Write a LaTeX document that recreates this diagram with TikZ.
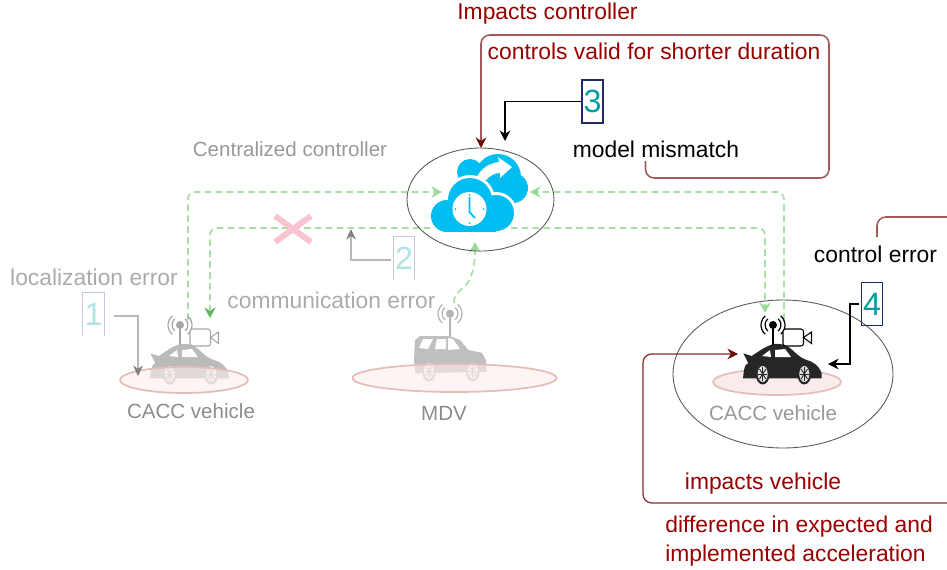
\documentclass[tikz,border=0pt]{standalone}
\usepackage{fontspec}
\setmainfont{Liberation Sans}
\usetikzlibrary{arrows.meta,shapes.geometric,shapes.misc}

\definecolor{errred}{HTML}{990000}
\definecolor{looptip}{HTML}{6E0A0A}
\definecolor{toploop}{HTML}{A05A5A}
\definecolor{lowloop}{HTML}{8A2A2A}
\definecolor{linkgreen}{HTML}{A8DFA8}
\definecolor{linktip}{HTML}{9ADB9A}
\definecolor{cloudblue}{HTML}{00BEF2}
\definecolor{numteal}{HTML}{009E9E}
\definecolor{numfade}{HTML}{B2E3E3}
\definecolor{numbox}{HTML}{1F2A6B}
\definecolor{fadebox}{HTML}{C6C8DC}
\definecolor{diskline}{HTML}{E5BDB9}
\definecolor{diskfill}{HTML}{FBECEC}
\definecolor{dropcross}{HTML}{F8C4D0}

\newcommand{\pxu}{.02cm}

\tikzset{
    bigtext/.style={font=\fontsize{13pt}{16pt}\selectfont, inner sep=0pt},
    smalltext/.style={font=\fontsize{11.7pt}{14pt}\selectfont, inner sep=0pt},
    errtext/.style={bigtext, text=errred},
    fadetext/.style={bigtext, text=black!33},
    grouptext/.style={smalltext, text=black!45},
    numnode/.style={font=\fontsize{18.3pt}{20pt}\selectfont, inner sep=0pt,
        minimum width=21*\pxu, minimum height=43*\pxu},
    ring/.style={ellipse, draw=black!65, line width=.5pt, inner sep=0pt},
    disk/.style={draw=diskline, fill=diskfill, line width=1pt, ellipse, inner sep=0pt},
    greenlink/.style={draw=linkgreen, line width=1pt, dash pattern=on 3.8pt off 2.4pt,
        rounded corners=4pt},
    greentip/.style={-{Stealth[length=6pt, width=6.5pt, color=linktip]}},
    toplink/.style={draw=toploop, line width=.9pt, rounded corners=5pt,
        -{Stealth[length=6pt, width=6pt, color=looptip]}},
    lowlink/.style={draw=lowloop, line width=.7pt, rounded corners=5pt,
        -{Stealth[length=6pt, width=6pt, color=looptip]}},
    blacklink/.style={draw=black, line width=.6pt,
        -{Stealth[length=6pt, width=6pt]}},
    graylink/.style={draw=black!28, line width=.6pt,
        -{Stealth[length=6pt, width=5.5pt, color=black!50]}},
}

% wheel: x, y, tyre colour
\newcommand{\wheelat}[3]{
    \fill[#3] (#1,#2) ellipse [x radius=7, y radius=10.5];
    \fill[white!85!#3] (#1,#2) ellipse [x radius=5, y radius=8];
    \foreach \spoke in {0,45,90,135}
      \draw[#3, line width=.5pt] (#1,#2) ++(\spoke:4.5 and 7) -- ++(\spoke+180:9 and 14);
}

% radio mast: ball x, y, foot y, colour
\newcommand{\mastat}[4]{
    \draw[#4, line width=.8pt] (#1,#2) -- (#1,#3);
    \fill[#4] (#1,#2) circle [radius=4];
    \foreach \wave in {8,12}{
      \draw[#4, line width=.7pt] (#1,#2) ++(130:\wave) arc [start angle=130, end angle=230, radius=\wave];
      \draw[#4, line width=.7pt] (#1,#2) ++(50:\wave) arc [start angle=50, end angle=-50, radius=\wave];
    }
}

% coupe with camera: x, y, body colour, mast colour
\newcommand{\coupeat}[4]{
    \begin{scope}[shift={(#1,#2)}]
      \fill[#3] (-38.7,-11.7) -- (-30.3,-9) .. controls (-24,-13) and (-18,-18) .. (-8.7,-21)
        .. controls (-2,-22) and (4,-20) .. (8,-17) .. controls (14,-12) and (18,-7) .. (24.7,-5)
        .. controls (32,-3) and (37,1) .. (39.7,8) -- (39.7,13.3) -- (-39,13.3) -- (-38,5)
        .. controls (-37,0) and (-35,-2) .. (-33.7,-1.7) -- cycle;
      \fill[white] (-20,-9) -- (-12,-15) -- (-11,-8) -- cycle;
      \fill[white] (-7,-15) -- (3,-16) -- (9,-8) -- (-7,-8) -- cycle;
      \wheelat{-19.3}{9}{#3}
      \wheelat{22.3}{9}{#3}
      \mastat{-9}{-40}{-20}{#4}
      \draw[#4, line width=.6pt, rounded corners=1.5pt, fill=white] (1,-36) rectangle (21.5,-19);
      \draw[#4, line width=.6pt, fill=white] (21.5,-27.5) -- (29.5,-33) -- (29.5,-21.5) -- cycle;
    \end{scope}
}

\begin{document}
\begin{tikzpicture}[x=\pxu, y=-\pxu]
    \useasboundingbox (0,0) rectangle (947,569);

    %%%% green links, below the rings
    \coordinate (leftmast) at (188,320);
    \coordinate (leftcar) at (210,318);
    \coordinate (rightmast) at (784,320);
    \coordinate (rightcar) at (765,313);
    \coordinate (suvmast) at (454,303);
    \coordinate (cloudleft) at (442,192);
    \coordinate (cloudright) at (530,192);
    \coordinate (cloudbottom) at (475,242);

    \draw[greenlink, greentip] (leftmast) |- (cloudleft);
    \draw[greenlink, greentip] (rightmast) |- (cloudright);
    \draw[greenlink, {Stealth[length=6pt, width=6.5pt, color=linktip!80!green!80!black]}-{Stealth[length=6pt, width=6.5pt, color=linktip]}]
      (leftcar) -- (210,228) -- (765,228) -- (rightcar);
    \draw[greenlink, greentip] (suvmast) .. controls (454,284) and (475,296) .. (cloudbottom);

    %%%% controller
    \node[ring, minimum width=147*\pxu, minimum height=103*\pxu] (cloudring) at (480.5,199.5) {};
    \fill[cloudblue] (470,172) circle [radius=13];
    \fill[cloudblue] (498,177) circle [radius=23];
    \fill[cloudblue] (513,188) circle [radius=15];
    \fill[cloudblue] (460,172) rectangle (505,190);
    % white rim of the front cloud
    \fill[white] (447,216) circle [radius=19];
    \fill[white] (470,200) circle [radius=25];
    \fill[white] (496,213) circle [radius=21];
    \fill[cloudblue] (447,216) circle [radius=16];
    \fill[cloudblue] (470,200) circle [radius=22];
    \fill[cloudblue] (496,213) circle [radius=18];
    \fill[cloudblue] (447,215) rectangle (496,232);
    \fill[white] (476,179) .. controls (480,169) and (489,163) .. (499,162)
      -- (498,157) -- (512,167) -- (500,178) -- (500,173)
      .. controls (494,173) and (490,176) .. (486,180) -- cycle;
    \fill[white] (469.5,209) circle [radius=17];
    \draw[cloudblue, line width=1pt] (469.5,197) -- (469.5,212) -- (475,218);
    \foreach \tick in {0,90,180,270}
      \fill[cloudblue] (469.5,209) ++(\tick:14) circle [radius=1];

    %%%% vehicles
    \coupeat{189}{365}{black!27}{black!35}
    \node[disk, fill opacity=.6, minimum width=128*\pxu, minimum height=26*\pxu] (leftdisk) at (184,380) {};

    \fill[black!25] (415,340) -- (420,336) -- (450,336) -- (460,340) -- (468.3,350) -- (481.7,352.7)
      -- (486,360) -- (486.7,371.7) -- (415,373.3) -- (414,360) -- cycle;
    \fill[white] (419,348) -- (423,339) -- (433,339) -- (428,349) -- cycle;
    \fill[white] (435,349) -- (437,339) -- (446,339) -- (446,349) -- cycle;
    \fill[white] (448,350) -- (448,338) -- (453,339) -- (460,349) -- cycle;
    \wheelat{429}{371}{black!25}
    \wheelat{472.7}{371}{black!25}
    \mastat{450}{313.7}{336}{black!30}
    \node[disk, fill opacity=.6, minimum width=204*\pxu, minimum height=28*\pxu] (middisk) at (454.5,378) {};

    \node[ring, minimum width=220*\pxu, minimum height=148*\pxu] (carring) at (783,374) {};
    \node[disk, minimum width=128*\pxu, minimum height=26*\pxu] (rightdisk) at (777,382) {};
    \coupeat{782}{365}{black!85}{black}

    %%%% labels
    \node[errtext] (impactsctrl) at (547.5,14) {Impacts controller};
    \node[errtext] (shorter) at (654,51) {controls valid for shorter duration};
    \node[bigtext] (mismatch) at (656,149) {model mismatch};
    \node[smalltext, text=black!40] (central) at (290,149) {Centralized controller};
    \node[fadetext] (localerr) at (94,277) {localization error};
    \node[fadetext] (commerr) at (331.5,300) {communication error};
    \node[grouptext] (leftname) at (191,411) {CACC vehicle};
    \node[grouptext] (midname) at (444,413) {MDV};
    \node[smalltext, text=black!40] (rightname) at (773,413) {CACC vehicle};
    \node[bigtext] (ctrlerr) at (875.5,254) {control error};
    \node[errtext] (impactsveh) at (763,484) {impacts vehicle};
    \node[errtext, align=left, anchor=north west] (accel) at (665,516) {difference in expected and\\implemented acceleration};

    \node[cross out, draw=dropcross, line width=3.4pt, inner sep=0pt,
      minimum width=30*\pxu, minimum height=20*\pxu] (dropmark) at (293,229) {};

    %%%% numbered boxes
    \node[numnode, text=numfade] (numone) at (93.5,314.5) {1};
    \draw[fadebox, line width=.6pt] (numone.south west) -- (numone.north west) -- (numone.north east) -- (numone.south east);
    \node[numnode, text=numfade] (numtwo) at (404,258.5) {2};
    \draw[fadebox, line width=.6pt] (numtwo.south west) -- (numtwo.north west) -- (numtwo.north east) -- (numtwo.south east);
    \node[numnode, text=numteal, draw=numbox, line width=.6pt] (numthree) at (592.5,101.5) {3};
    \node[numnode, text=numteal, draw=numbox, line width=.6pt] (numfour) at (872,304) {4};

    %%%% error arrows
    \coordinate (onetail) at (114,316);
    \coordinate (onehead) at (138,376);
    \coordinate (twotail) at (391,260);
    \coordinate (twohead) at (351,229);
    \coordinate (threehead) at (505,141);
    \coordinate (fourtail) at (859,304);
    \coordinate (fourhead) at (828,364);
    \draw[graylink] (onetail) -| (onehead);
    \draw[graylink] (twotail) -| (twohead);
    \draw[blacklink] (numthree.west) -| (threehead);
    \draw[blacklink] (fourtail) -- (850,304) |- (fourhead);

    %%%% red loops
    \coordinate (mismatchtail) at (645.5,161);
    \coordinate (ringtop) at (481,148);
    \coordinate (ctrltail) at (877,237);
    \coordinate (topedge) at (947,217);
    \coordinate (lowedge) at (947,503);
    \coordinate (cartail) at (738,354);
    \draw[toplink] (mismatchtail) -- (645.5,178) -- (829,178) -- (829,35) -- (481,35) -- (ringtop);
    \draw[draw=toploop, line width=.9pt, rounded corners=5pt] (ctrltail) |- (topedge);
    \draw[lowlink] (lowedge) -- (643,503) -- (643,354) -- (cartail);
\end{tikzpicture}
\end{document}
